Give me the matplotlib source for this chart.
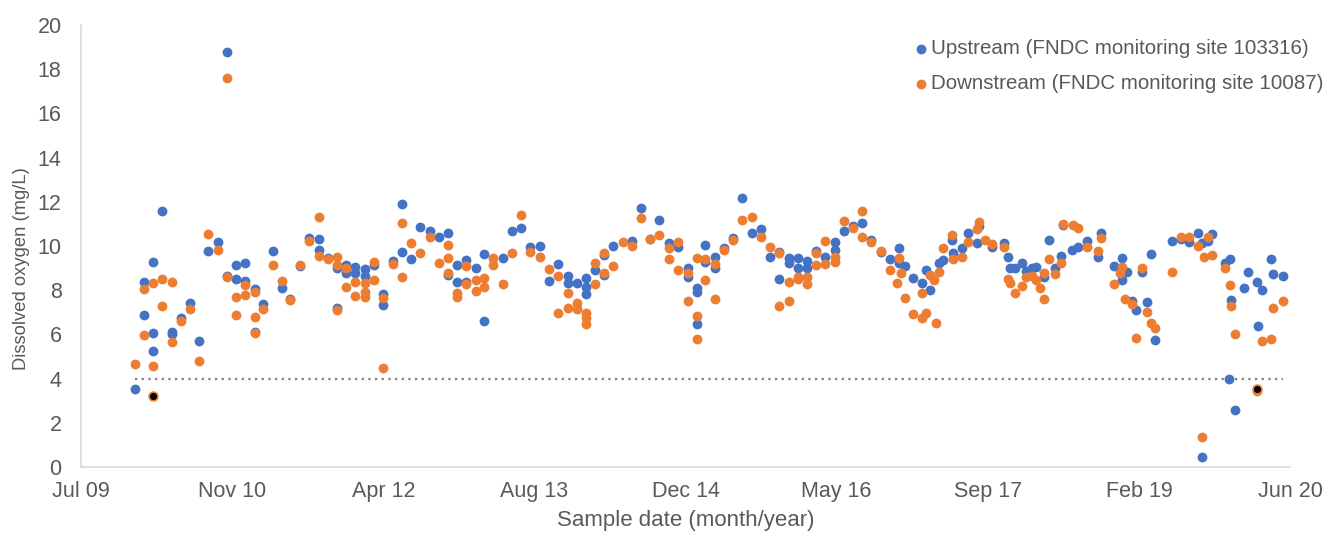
import matplotlib
matplotlib.use('Agg')
import matplotlib.pyplot as plt
import matplotlib.dates as mdates
import pandas as pd

plt.rcParams['font.family'] = ['Liberation Sans', 'DejaVu Sans']

# 上游站 103316
up_dates = [
    '2010-01-02', '2010-02-01', '2010-02-01', '2010-03-03', '2010-03-03', '2010-03-03',
    '2010-04-03', '2010-05-04', '2010-05-04', '2010-06-03', '2010-07-03', '2010-08-02',
    '2010-09-02', '2010-10-03', '2010-11-02', '2010-11-02', '2010-12-02', '2010-12-02',
    '2011-01-02', '2011-01-02', '2011-02-02', '2011-02-02', '2011-03-03', '2011-04-03',
    '2011-05-03', '2011-06-01', '2011-07-02', '2011-08-02', '2011-09-02', '2011-09-02',
    '2011-10-03', '2011-11-02', '2011-11-02', '2011-12-02', '2011-12-02', '2012-01-02',
    '2012-01-02', '2012-02-02', '2012-02-02', '2012-03-03', '2012-04-03', '2012-04-03',
    '2012-05-04', '2012-06-03', '2012-06-03', '2012-07-03', '2012-08-03', '2012-09-03',
    '2012-10-03', '2012-11-03', '2012-11-03', '2012-12-03', '2012-12-03', '2013-01-03',
    '2013-01-03', '2013-02-03', '2013-03-03', '2013-03-03', '2013-05-03', '2013-06-03',
    '2013-07-03', '2013-08-03', '2013-09-03', '2013-10-03', '2013-11-03', '2013-12-04',
    '2013-12-04', '2014-01-03', '2014-02-03', '2014-02-03', '2014-02-03', '2014-03-03',
    '2014-04-03', '2014-04-03', '2014-05-04', '2014-07-06', '2014-08-03', '2014-09-03',
    '2014-10-03', '2014-11-04', '2014-12-05', '2015-01-05', '2015-01-05', '2015-02-04',
    '2015-02-04', '2015-02-04', '2015-03-05', '2015-03-05', '2015-04-04', '2015-04-04',
    '2015-05-05', '2015-06-04', '2015-07-05', '2015-08-05', '2015-09-03', '2015-10-04',
    '2015-11-04', '2015-11-04', '2015-12-05', '2015-12-05', '2016-01-05', '2016-01-05',
    '2016-02-04', '2016-02-04', '2016-03-04', '2016-04-04', '2016-05-05', '2016-05-05',
    '2016-06-04', '2016-07-05', '2016-08-04', '2016-09-04', '2016-10-05', '2016-11-04',
    '2016-12-04', '2016-12-04', '2016-12-24', '2017-01-20', '2017-02-17', '2017-03-03',
    '2017-03-18', '2017-04-15', '2017-04-29', '2017-05-27', '2017-06-01', '2017-06-29',
    '2017-07-21', '2017-08-19', '2017-08-25', '2017-10-08', '2017-11-17', '2017-11-30',
    '2017-12-06', '2017-12-23', '2018-01-14', '2018-01-28', '2018-02-16', '2018-03-02',
    '2018-03-29', '2018-04-14', '2018-05-04', '2018-05-24', '2018-06-01', '2018-06-28',
    '2018-07-20', '2018-08-19', '2018-09-24', '2018-10-05', '2018-11-16', '2018-12-11',
    '2018-12-11', '2018-12-27', '2019-01-13', '2019-01-27', '2019-02-17', '2019-03-04',
    '2019-03-18', '2019-03-31', '2019-05-27', '2019-06-25', '2019-07-22', '2019-08-19',
    '2019-09-01', '2019-09-04', '2019-09-21', '2019-10-07', '2019-11-17', '2019-12-01',
    '2019-12-03', '2019-12-07', '2019-12-20', '2020-01-18', '2020-02-03', '2020-03-01',
    '2020-03-05', '2020-03-19', '2020-04-18', '2020-04-23', '2020-05-29',
]
up_do = [
    3.54, 8.39, 6.86, 9.26, 6.05, 5.24,
    11.58, 6.12, 6.02, 6.74, 7.40, 5.69,
    9.76, 10.17, 8.64, 18.78, 9.15, 8.49,
    9.21, 8.40, 8.04, 6.12, 7.36, 9.77,
    8.10, 7.60, 9.10, 10.35, 10.30, 9.82,
    9.44, 8.99, 7.18, 9.14, 8.76, 9.06,
    8.76, 8.94, 8.64, 9.14, 7.85, 7.33,
    9.32, 11.90, 9.71, 9.41, 10.85, 10.68,
    10.39, 10.57, 8.69, 9.12, 8.39, 9.37,
    8.39, 8.99, 9.62, 6.62, 9.44, 10.68,
    10.80, 9.94, 10.02, 8.43, 9.19, 8.66,
    8.31, 8.34, 8.57, 8.16, 7.81, 8.91,
    9.59, 8.69, 10.00, 10.24, 11.70, 10.30,
    11.19, 10.12, 9.97, 8.99, 8.61, 8.08,
    7.93, 6.47, 10.05, 9.29, 9.52, 8.99,
    9.90, 10.35, 12.16, 10.57, 10.75, 9.49,
    9.74, 8.51, 9.44, 9.21, 9.44, 8.99,
    9.34, 8.99, 9.77, 9.52, 10.20, 9.82,
    10.69, 10.90, 11.06, 10.27, 9.74, 9.40,
    9.90, 9.21, 9.10, 8.57, 8.34, 8.91,
    8.01, 9.21, 9.37, 10.27, 9.70, 9.92,
    10.57, 10.12, 10.90, 9.97, 10.12, 9.52,
    8.99, 8.99, 9.21, 8.88, 8.99, 9.06,
    8.61, 10.27, 8.99, 9.55, 10.95, 9.82,
    9.97, 10.24, 9.52, 10.60, 9.10, 9.47,
    8.46, 8.84, 7.53, 7.10, 8.84, 7.48,
    9.64, 5.75, 10.23, 10.30, 10.20, 10.60,
    0.47, 10.12, 10.24, 10.54, 9.21, 3.98,
    9.40, 7.56, 2.58, 8.11, 8.81, 8.39,
    6.38, 8.01, 9.41, 8.72, 8.66,
]

# 下游站 10087
down_dates = [
    '2010-01-02', '2010-02-01', '2010-02-01', '2010-03-03', '2010-03-03', '2010-04-03',
    '2010-04-03', '2010-05-04', '2010-05-04', '2010-06-03', '2010-07-03', '2010-08-02',
    '2010-09-02', '2010-10-03', '2010-11-02', '2010-11-02', '2010-12-02', '2010-12-02',
    '2011-01-02', '2011-01-02', '2011-02-02', '2011-02-02', '2011-02-02', '2011-03-03',
    '2011-04-03', '2011-05-03', '2011-06-01', '2011-07-02', '2011-08-02', '2011-09-02',
    '2011-09-02', '2011-10-03', '2011-11-02', '2011-11-02', '2011-11-02', '2011-12-02',
    '2011-12-02', '2012-01-02', '2012-01-02', '2012-02-02', '2012-02-02', '2012-02-02',
    '2012-03-03', '2012-03-03', '2012-04-03', '2012-04-03', '2012-05-04', '2012-06-03',
    '2012-06-03', '2012-07-03', '2012-08-03', '2012-09-03', '2012-10-03', '2012-11-03',
    '2012-11-03', '2012-11-03', '2012-12-03', '2012-12-03', '2013-01-03', '2013-01-03',
    '2013-02-03', '2013-02-03', '2013-03-03', '2013-03-03', '2013-04-02', '2013-04-02',
    '2013-05-03', '2013-06-03', '2013-07-03', '2013-08-03', '2013-09-03', '2013-10-03',
    '2013-11-03', '2013-11-03', '2013-12-04', '2013-12-04', '2014-01-03', '2014-01-03',
    '2014-02-03', '2014-02-03', '2014-02-03', '2014-03-03', '2014-03-03', '2014-04-03',
    '2014-04-03', '2014-05-04', '2014-06-04', '2014-07-06', '2014-08-03', '2014-09-03',
    '2014-10-03', '2014-11-04', '2014-11-04', '2014-12-05', '2014-12-05', '2015-01-05',
    '2015-01-05', '2015-02-04', '2015-02-04', '2015-02-04', '2015-03-05', '2015-03-05',
    '2015-04-04', '2015-04-04', '2015-05-05', '2015-06-04', '2015-07-05', '2015-08-05',
    '2015-09-03', '2015-10-04', '2015-11-04', '2015-11-04', '2015-12-05', '2015-12-05',
    '2016-01-05', '2016-01-05', '2016-02-04', '2016-02-04', '2016-03-04', '2016-03-04',
    '2016-04-04', '2016-04-04', '2016-05-05', '2016-05-05', '2016-06-04', '2016-07-05',
    '2016-08-04', '2016-08-04', '2016-09-04', '2016-10-05', '2016-11-04', '2016-11-28',
    '2016-12-04', '2016-12-10', '2016-12-24', '2017-01-20', '2017-02-17', '2017-02-17',
    '2017-03-05', '2017-03-18', '2017-03-29', '2017-04-05', '2017-04-15', '2017-04-29',
    '2017-05-27', '2017-06-01', '2017-06-29', '2017-07-21', '2017-08-19', '2017-08-25',
    '2017-09-16', '2017-10-08', '2017-11-17', '2017-11-30', '2017-12-06', '2017-12-23',
    '2018-01-14', '2018-01-28', '2018-02-16', '2018-03-02', '2018-03-15', '2018-03-29',
    '2018-03-29', '2018-04-14', '2018-05-04', '2018-05-24', '2018-06-01', '2018-07-02',
    '2018-07-20', '2018-08-19', '2018-09-24', '2018-10-05', '2018-11-16', '2018-12-05',
    '2018-12-11', '2018-12-22', '2019-01-13', '2019-01-27', '2019-02-17', '2019-03-04',
    '2019-03-18', '2019-03-31', '2019-05-27', '2019-06-25', '2019-07-22', '2019-08-19',
    '2019-09-01', '2019-09-09', '2019-09-21', '2019-10-07', '2019-11-17', '2019-12-03',
    '2019-12-07', '2019-12-20', '2020-03-01', '2020-03-19', '2020-04-18', '2020-04-23',
    '2020-05-29',
]
down_do = [
    4.66, 8.05, 5.99, 8.31, 4.57, 8.49,
    7.28, 8.39, 5.64, 6.59, 7.16, 4.78,
    10.53, 9.82, 8.60, 17.60, 7.68, 6.89,
    8.25, 7.78, 7.93, 6.80, 6.05, 7.13,
    9.14, 8.42, 7.57, 9.14, 10.23, 11.30,
    9.55, 9.40, 9.52, 9.14, 7.09, 9.02,
    8.13, 8.39, 7.74, 8.34, 7.93, 7.71,
    9.29, 8.46, 7.63, 4.48, 9.19, 11.03,
    8.61, 10.12, 9.70, 10.39, 9.21, 10.05,
    9.44, 8.79, 7.86, 7.68, 9.10, 8.27,
    8.46, 7.96, 8.57, 8.16, 9.44, 9.14,
    8.27, 9.67, 11.40, 9.73, 9.52, 8.96,
    8.64, 6.95, 7.89, 7.18, 7.40, 7.13,
    6.95, 6.73, 6.47, 9.24, 8.28, 9.70,
    8.79, 9.10, 10.20, 10.00, 11.28, 10.30,
    10.50, 9.90, 9.40, 10.20, 8.91, 8.76,
    7.53, 9.44, 6.83, 5.78, 9.40, 8.46,
    9.19, 7.59, 9.82, 10.27, 11.18, 11.33,
    10.39, 9.94, 9.67, 7.30, 8.39, 7.51,
    8.61, 8.49, 8.61, 8.27, 9.67, 9.14,
    10.24, 9.19, 9.52, 9.29, 11.15, 10.80,
    11.58, 10.39, 10.20, 9.77, 8.91, 8.31,
    9.44, 8.79, 7.66, 6.92, 7.89, 6.73,
    6.95, 8.69, 8.46, 6.53, 8.84, 9.90,
    10.50, 9.40, 9.52, 10.20, 10.77, 11.10,
    10.27, 10.09, 9.97, 8.49, 8.31, 7.86,
    8.19, 8.58, 8.64, 8.46, 8.08, 7.59,
    8.79, 9.41, 8.72, 9.24, 11.00, 10.95,
    10.80, 9.97, 9.77, 10.38, 8.28, 8.76,
    9.06, 7.59, 7.38, 5.82, 8.99, 7.00,
    6.50, 6.28, 8.81, 10.42, 10.42, 10.00,
    1.37, 9.49, 10.39, 9.59, 8.99, 8.24,
    7.30, 6.00, 3.45, 5.70, 5.78, 7.21,
    7.53,
]

# 黑色标记的点
flag_dates = ['2010-03-03', '2020-03-03']
flag_do = [3.23, 3.55]

guide_dates = ['2010-01-02', '2020-05-29']
guide_do = [4, 4]

BLUE = '#4472C4'
ORANGE = '#ED7D31'
GREY = '#595959'
FS = 15.5

fig = plt.figure(figsize=(13.26, 5.35), dpi=100)
ax = fig.add_axes([0.0611, 0.1271, 0.9118, 0.8262])

ax.plot(pd.to_datetime(guide_dates), guide_do, linestyle=(0, (1, 2)),
        color='#7F7F7F', linewidth=1.6, zorder=1)

ax.scatter(pd.to_datetime(up_dates), up_do, s=50, color=BLUE, linewidths=0,
           label='Upstream (FNDC monitoring site 103316)', zorder=2)
ax.scatter(pd.to_datetime(down_dates), down_do, s=50, color=ORANGE, linewidths=0,
           label='Downstream (FNDC monitoring site 10087)', zorder=3)
ax.scatter(pd.to_datetime(flag_dates), flag_do, s=40, color='black',
           edgecolors=ORANGE, linewidths=1.2, zorder=4)

start = pd.Timestamp('2009-07-08')
ticks = [start + pd.Timedelta(days=500 * i) for i in range(9)]
ax.set_xlim(ticks[0], ticks[-1])
ax.set_xticks(ticks)
ax.xaxis.set_major_formatter(mdates.DateFormatter('%b %y'))
ax.set_ylim(0, 20)
ax.set_yticks(range(0, 21, 2))

for s in ['top', 'right']:
    ax.spines[s].set_visible(False)
for s in ['left', 'bottom']:
    ax.spines[s].set_color('#D9D9D9')
    ax.spines[s].set_linewidth(1.2)
ax.tick_params(length=0, labelsize=FS, labelcolor=GREY)
ax.tick_params(axis='x', pad=10)
ax.tick_params(axis='y', pad=14)

ax.set_xlabel('Sample date (month/year)', fontsize=16, color=GREY)
ax.xaxis.set_label_coords(0.5, -0.098)
ax.set_ylabel('Dissolved oxygen (mg/L)', fontsize=13.2, color=GREY)
ax.yaxis.set_label_coords(-0.042, 0.45)

ax.legend(loc='upper left', bbox_to_anchor=(916 / 1326, 1 - 39 / 535),
          bbox_transform=fig.transFigure, frameon=False, borderpad=0,
          borderaxespad=0, fontsize=14.8, labelcolor=GREY, handlelength=0.45,
          handletextpad=0.3, markerscale=1.0, labelspacing=0.8)

plt.savefig('out.png', dpi=100)
